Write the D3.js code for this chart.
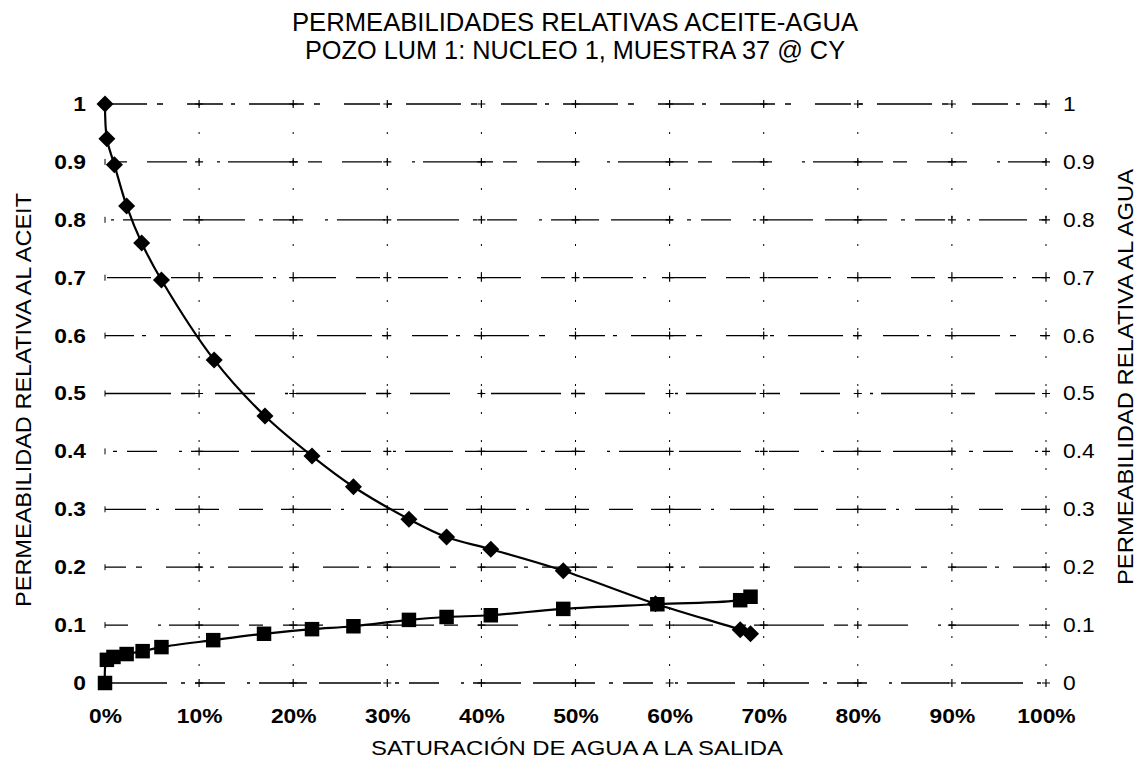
<!DOCTYPE html>
<html>
<head>
<meta charset="utf-8">
<script src="https://cdn.jsdelivr.net/npm/d3@7"></script>
<style>
  html, body { margin: 0; padding: 0; background: #fff; }
  svg { display: block; }
</style>
</head>
<body>
<svg id="chart" width="1142" height="772"></svg>
<script>
// Water saturation at the outlet (fraction) and relative permeabilities
const oilSw  = [0, 0.002, 0.01, 0.023, 0.039, 0.06, 0.116, 0.17, 0.22, 0.264, 0.323, 0.363, 0.41, 0.487, 0.585, 0.675, 0.686];
const oilKr  = [1.0, 0.94, 0.895, 0.824, 0.76, 0.696, 0.558, 0.461, 0.392, 0.339, 0.283, 0.252, 0.231, 0.194, 0.137, 0.092, 0.085];
const waterSw = [0, 0.002, 0.009, 0.023, 0.040, 0.060, 0.115, 0.169, 0.22, 0.264, 0.323, 0.363, 0.41, 0.487, 0.587, 0.675, 0.686];
const waterKr = [0, 0.040, 0.045, 0.050, 0.055, 0.062, 0.074, 0.085, 0.093, 0.098, 0.109, 0.114, 0.117, 0.128, 0.136, 0.143, 0.149];

const xTicks = [0, 0.1, 0.2, 0.3, 0.4, 0.5, 0.6, 0.7, 0.8, 0.9, 1.0];
const yTicks = [0, 0.1, 0.2, 0.3, 0.4, 0.5, 0.6, 0.7, 0.8, 0.9, 1.0];

const titleLines = ["PERMEABILIDADES RELATIVAS ACEITE-AGUA", "POZO LUM 1: NUCLEO 1, MUESTRA 37 @ CY"];
const xTitle = "SATURACIÓN DE AGUA A LA SALIDA";
const yLeftTitle = "PERMEABILIDAD RELATIVA AL ACEIT";
const yRightTitle = "PERMEABILIDAD RELATIVA AL AGUA";

const svg = d3.select("#chart");
const plot = { left: 105, right: 1046, top: 104, bottom: 683 };

const x = d3.scaleLinear().domain([0, 1]).range([plot.left, plot.right]);
const y = d3.scaleLinear().domain([0, 1]).range([plot.bottom, plot.top]);

const font = "'Liberation Sans', Arial, sans-serif";
const stretch = 1.14; // labels are set slightly wide

// Title (two lines, tall lettering fitted to width)
const titleWidths = [566, 540];
svg.append("g").selectAll("text").data(titleLines).join("text")
  .attr("x", 575).attr("y", (d, i) => 31 + i * 28)
  .attr("text-anchor", "middle")
  .attr("font-family", font).attr("font-size", 25)
  .attr("textLength", (d, i) => titleWidths[i]).attr("lengthAdjust", "spacingAndGlyphs")
  .attr("fill", "#000")
  .text(d => d);

// Grid: broken horizontal lines and sparse dotted verticals
const grid = svg.append("g");
grid.selectAll("line.h").data(yTicks).join("line")
  .attr("class", "h")
  .attr("x1", plot.left).attr("x2", plot.right)
  .attr("y1", d => y(d)).attr("y2", d => y(d))
  .attr("stroke", "#000").attr("stroke-width", 1.3)
  .attr("stroke-dasharray", (d, i) => ["62,14,4,10,30,22,3,9,48,12", "40,30,3,8,70,10,14,20", "55,10,6,24,36,8,4,14", "24,18,50,10,3,16,44,20"][i % 4])
  .attr("stroke-dashoffset", (d, i) => i * 17);

grid.selectAll("line.v").data(xTicks.slice(1)).join("line")
  .attr("class", "v")
  .attr("x1", d => x(d)).attr("x2", d => x(d))
  .attr("y1", plot.top).attr("y2", plot.bottom)
  .attr("stroke", "#000").attr("stroke-width", 1)
  .attr("stroke-dasharray", "2,26");

// Small crosses where grid lines meet, short ticks on the left edge
const crosses = [];
xTicks.slice(1).forEach(a => yTicks.forEach(b => crosses.push([a, b])));
grid.selectAll("path.c").data(crosses).join("path")
  .attr("class", "c")
  .attr("d", d => `M${x(d[0]) - 4},${y(d[1])}h8M${x(d[0])},${y(d[1]) - 4}v8`)
  .attr("stroke", "#000").attr("stroke-width", 1.2);
grid.selectAll("path.l").data(yTicks.slice(1)).join("path")
  .attr("class", "l")
  .attr("d", d => `M${plot.left},${y(d) - 3}v6`)
  .attr("stroke", "#000").attr("stroke-width", 1);

// Axes (labels only)
const xAxis = d3.axisBottom(x).tickValues(xTicks).tickFormat(d3.format(".0%")).tickSize(0).tickPadding(0);
svg.append("g").attr("transform", `translate(0,${plot.bottom + 40})`).call(xAxis)
  .call(g => g.select(".domain").remove())
  .selectAll("text").attr("font-family", font).attr("font-size", 20).attr("font-weight", "bold")
  .attr("fill", "#000").attr("dy", 0).attr("transform", `scale(${stretch},1)`);

const yFmt = d => d === 0 ? "0" : d === 1 ? "1" : d3.format(".1f")(d);
const yAxisL = d3.axisLeft(y).tickValues(yTicks).tickFormat(yFmt).tickSize(0).tickPadding(19);
svg.append("g").attr("transform", `translate(${plot.left},0)`).call(yAxisL)
  .call(g => g.select(".domain").remove())
  .selectAll("text").attr("font-family", font).attr("font-size", 20).attr("font-weight", "bold").attr("fill", "#000")
  .attr("x", -19 / stretch).attr("transform", `scale(${stretch},1)`);

const yAxisR = d3.axisRight(y).tickValues(yTicks).tickFormat(yFmt).tickSize(0).tickPadding(17);
svg.append("g").attr("transform", `translate(${plot.right},0)`).call(yAxisR)
  .call(g => g.select(".domain").remove())
  .selectAll("text").attr("font-family", font).attr("font-size", 20).attr("fill", "#000")
  .attr("x", 17 / stretch).attr("transform", `scale(${stretch},1)`);

// Axis titles
svg.append("text").attr("x", 577).attr("y", 755).attr("text-anchor", "middle")
  .attr("font-family", font).attr("font-size", 21)
  .attr("textLength", 412).attr("lengthAdjust", "spacingAndGlyphs").text(xTitle);
svg.append("text").attr("transform", "translate(31,400) rotate(-90)").attr("text-anchor", "middle")
  .attr("font-family", font).attr("font-size", 22)
  .attr("textLength", 414).attr("lengthAdjust", "spacingAndGlyphs").text(yLeftTitle);
svg.append("text").attr("transform", "translate(1133,377) rotate(-90)").attr("text-anchor", "middle")
  .attr("font-family", font).attr("font-size", 22)
  .attr("textLength", 416).attr("lengthAdjust", "spacingAndGlyphs").text(yRightTitle);

// Curves
const oilPts = oilSw.map((s, i) => [s, oilKr[i]]);
const waterPts = waterSw.map((s, i) => [s, waterKr[i]]);
const line = d3.line().x(d => x(d[0])).y(d => y(d[1])).curve(d3.curveCatmullRom.alpha(0.5));

svg.append("path").attr("d", line(waterPts)).attr("fill", "none").attr("stroke", "#000").attr("stroke-width", 2.2);
svg.append("path").attr("d", line(oilPts)).attr("fill", "none").attr("stroke", "#000").attr("stroke-width", 2.2);

// Markers
const square = d3.symbol().type(d3.symbolSquare).size(210);
svg.append("g").selectAll("path").data(waterPts).join("path")
  .attr("d", square).attr("transform", d => `translate(${x(d[0])},${y(d[1])})`).attr("fill", "#000");

const diamond = d3.symbol().type(d3.symbolSquare).size(145);
svg.append("g").selectAll("path").data(oilPts).join("path")
  .attr("d", diamond).attr("transform", d => `translate(${x(d[0])},${y(d[1])}) rotate(45)`).attr("fill", "#000");
</script>
</body>
</html>
